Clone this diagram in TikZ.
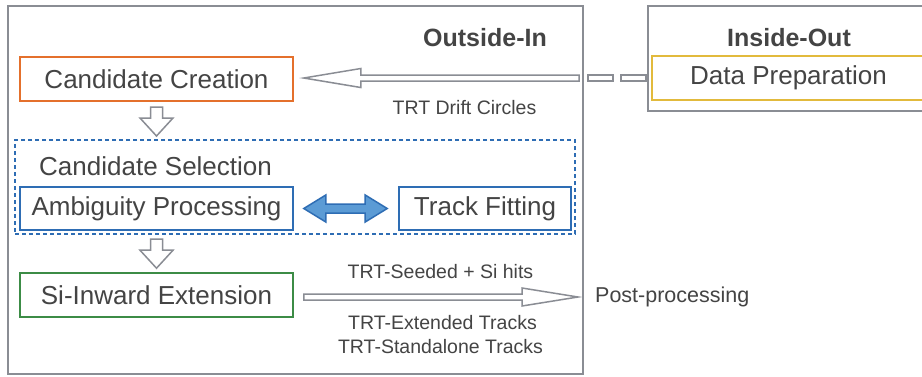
\documentclass[tikz,border=0pt]{standalone}
\usepackage{fontspec}
\setmainfont{Liberation Sans}
\usepackage{tikz}
\usetikzlibrary{calc}

\definecolor{linegray}{RGB}{138,141,148}
\definecolor{txtgray}{RGB}{68,68,68}
\definecolor{ccorange}{RGB}{228,112,44}
\definecolor{dpyellow}{RGB}{226,186,60}
\definecolor{selblue}{RGB}{46,109,180}
\definecolor{arrblue}{RGB}{91,155,213}
\definecolor{sigreen}{RGB}{60,140,70}

\tikzset{
	group/.style={draw=linegray,line width=2pt,inner sep=0pt},
	box/.style={line width=1.6pt,inner sep=0pt,minimum width=273,minimum height=44,text=txtgray,font=\fontsize{26}{30}\selectfont},
	grouptitle/.style={text=txtgray,inner sep=0pt,font=\fontsize{25}{28}\selectfont\bfseries},
	lbl/.style={text=txtgray,inner sep=0pt,font=\fontsize{19.5}{22}\selectfont},
	openarr/.style={draw=linegray,line width=1.5pt,fill=white,line join=miter},
}

\begin{document}
\begin{tikzpicture}[x=1pt,y=-1pt]
	\useasboundingbox (0,0) rectangle (922,376);
	\fill[white] (0,0) rectangle (922,376);
	% groups
	\node[group,minimum width=575,minimum height=368] (outin) at (295.5,190) {};
	\node[group,minimum width=281,minimum height=105] (inout) at (788.5,58.5) {};
	\node[grouptitle] (outtitle) at (485,38) {Outside-In};
	\node[grouptitle] (intitle) at (789,38) {Inside-Out};
	\node[draw=selblue,line width=2pt,dash pattern=on 4pt off 3pt,minimum width=560,minimum height=94] (sel) at (295,187) {};
	\node[text=txtgray,inner sep=0pt,anchor=west,font=\fontsize{26}{30}\selectfont] (seltitle) at (39,166) {Candidate Selection};

	% steps
	\node[box,draw=ccorange] (cc) at (156.5,79) {Candidate Creation};
	\node[box,draw=selblue,minimum height=43] (ap) at (156.5,208.5) {Ambiguity Processing};
	\node[box,draw=selblue,minimum width=172,minimum height=43] (tf) at (485,208.5) {Track Fitting};
	\node[box,draw=sigreen] (si) at (156.5,295) {Si-Inward Extension};
	\node[box,draw=dpyellow] (dp) at (788.5,78) {Data Preparation};
	\node[text=txtgray,inner sep=0pt,anchor=west,font=\fontsize{21.5}{24}\selectfont] (post) at (595,297) {Post-processing};

	% labels
	\node[lbl] (drift) at (464.5,108) {TRT Drift Circles};
	\node[lbl] (seeded) at (440.5,272) {TRT-Seeded + Si hits};
	\node[lbl] (extended) at (442.5,323) {TRT-Extended Tracks};
	\node[lbl] (standalone) at (440.5,347) {TRT-Standalone Tracks};

	% inside-out to candidate creation
	\coordinate (tipL) at ($(cc.east |- dp.west)+(10,0)$);
	\draw[openarr] (tipL) -- ++(57,-9.5) -- ++(0,6.5) -- ($(outin.east |- tipL)+(-5,-3)$) -- ++(0,6) -- ($(tipL)+(57,3)$) -- ++(0,6.5) -- cycle;
	\foreach \dx in {4,37}
		\draw[openarr] ($(outin.east |- tipL)+(\dx,-3)$) rectangle ++(25,6);

	% down arrows
	\coordinate (t1) at ($(sel.north -| cc.south)+(0,-3)$);
	\coordinate (t2) at ($(si.north)+(0,-4)$);
	\foreach \t in {t1,t2}
		\draw[openarr] ($(\t)+(-6,-29)$) -- ($(\t)+(-6,-18)$) -- ($(\t)+(-16.5,-18)$) -- (\t) -- ($(\t)+(16.5,-18)$) -- ($(\t)+(6,-18)$) -- ($(\t)+(6,-29)$) -- cycle;

	% ambiguity processing <-> track fitting
	\coordinate (lt) at ($(ap.east)+(10,0)$);
	\coordinate (rt) at ($(tf.west)+(-11,0)$);
	\draw[draw=selblue,fill=arrblue,line width=1.5pt,line join=miter] (lt) -- ++(22,-13.5) -- ++(0,9) -- ($(rt)+(-22,-4.5)$) -- ++(0,-9) -- (rt) -- ++(-22,13.5) -- ++(0,-9) -- ($(lt)+(22,4.5)$) -- ++(0,9) -- cycle;

	% to post-processing
	\coordinate (tipR) at ($(post.west)+(-17,0)$);
	\draw[openarr] ($(si.east |- tipR)+(10,-3)$) -- ($(tipR)+(-56,-3)$) -- ++(0,-6) -- (tipR) -- ++(-56,9) -- ++(0,-6) -- ($(si.east |- tipR)+(10,3)$) -- cycle;
\end{tikzpicture}
\end{document}
